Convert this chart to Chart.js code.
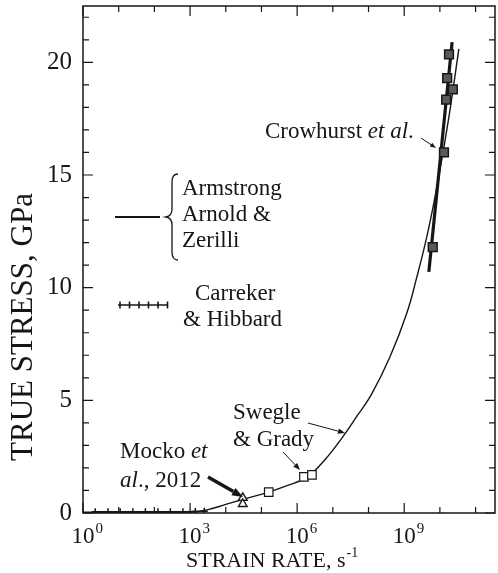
<!DOCTYPE html>
<html>
<head>
<meta charset="utf-8">
<script src="https://cdn.jsdelivr.net/npm/chart.js@4.4.1/dist/chart.umd.min.js"></script>
<style>
  html, body { margin: 0; padding: 0; background: #fff; }
  #wrap { width: 498px; height: 573px; }
</style>
</head>
<body>
<div id="wrap"><canvas id="myChart" width="498" height="573"></canvas></div>
<script>
// strain rate (1/s) vs true stress (GPa)
const modelRate   = [1, 10, 100, 1e3, 3.2e3, 1e4, 3.0e4, 1.6e5, 5e5, 1.9e6, 6.0e6, 1.9e7, 5.0e7, 1.2e8, 4.0e8, 1.2e9, 2.2e9, 4.5e9, 9.0e9, 1.8e10, 3.4e10];
const modelStress = [0.03, 0.03, 0.03, 0.04, 0.15, 0.38, 0.6, 0.93, 1.2, 1.6, 2.36, 3.38, 4.35, 5.25, 6.93, 8.9, 10.4, 12.4, 14.8, 17.6, 20.6];

const carrekerRate   = [2.2, 5, 11, 25, 56, 126, 280, 630, 1400, 2500];
const carrekerStress = [0.05, 0.05, 0.05, 0.05, 0.05, 0.05, 0.06, 0.06, 0.07, 0.08];

const mockoRate   = [3.0e4, 3.0e4];
const mockoStress = [0.67, 0.4];

const swegleRate   = [1.6e5, 1.55e6, 2.6e6];
const swegleStress = [0.93, 1.6, 1.69];

const crowhurstRate   = [6.3e9, 1.3e10, 1.5e10, 1.6e10, 1.8e10, 2.3e10];
const crowhurstStress = [11.8, 16.0, 18.35, 19.3, 20.35, 18.8];
const crowhurstFitRate   = [4.9e9, 2.2e10];
const crowhurstFitStress = [10.7, 20.9];

const xDecades = [0, 1, 2, 3, 4, 5, 6, 7, 8, 9, 10, 11];
const xLabelExps = [0, 3, 6, 9];
const yTickValues = [0, 5, 10, 15, 20];

const ink = '#161616';
const serif = '"Liberation Serif", "Times New Roman", serif';

function pts(xs, ys) {
    return xs.map((x, i) => ({ x: x, y: ys[i] }));
}

function arrow(ctx, x1, y1, x2, y2, width, head) {
    const a = Math.atan2(y2 - y1, x2 - x1);
    const bx = x2 - head * Math.cos(a), by = y2 - head * Math.sin(a);
    const w = head * 0.38;
    ctx.save();
    ctx.strokeStyle = ink;
    ctx.fillStyle = ink;
    ctx.lineWidth = width;
    ctx.beginPath();
    ctx.moveTo(x1, y1);
    ctx.lineTo(bx, by);
    ctx.stroke();
    ctx.beginPath();
    ctx.moveTo(x2, y2);
    ctx.lineTo(bx + w * Math.sin(a), by - w * Math.cos(a));
    ctx.lineTo(bx - w * Math.sin(a), by + w * Math.cos(a));
    ctx.closePath();
    ctx.fill();
    ctx.restore();
}

// text made of plain and italic pieces
function runs(ctx, x, y, parts, size) {
    let cx = x;
    parts.forEach(([t, it]) => {
        ctx.font = (it ? 'italic ' : '') + size + 'px ' + serif;
        ctx.fillText(t, cx, y);
        cx += ctx.measureText(t).width;
    });
}

function noPad(s) {
    s.paddingLeft = 0;
    s.paddingRight = 0;
    s.paddingTop = 0;
    s.paddingBottom = 0;
}

const frameAndNotes = {
    id: 'frameAndNotes',
    afterDraw(chart) {
        const ctx = chart.ctx;
        const area = chart.chartArea;
        const xs = chart.scales.x, ys = chart.scales.y;
        ctx.save();
        ctx.strokeStyle = ink;
        ctx.fillStyle = ink;

        // frame
        ctx.lineWidth = 1.5;
        ctx.strokeRect(area.left, area.top, area.right - area.left, area.bottom - area.top);

        // inward ticks on all four sides
        ctx.lineWidth = 1.2;
        ctx.beginPath();
        xDecades.forEach(e => {
            const px = xs.getPixelForValue(Math.pow(10, e));
            const len = e % 3 === 0 ? 10 : 6;
            ctx.moveTo(px, area.bottom); ctx.lineTo(px, area.bottom - len);
            ctx.moveTo(px, area.top); ctx.lineTo(px, area.top + len);
        });
        for (let v = 0; v <= 22; v++) {
            const py = ys.getPixelForValue(v);
            const len = v % 5 === 0 ? 10 : 6;
            ctx.moveTo(area.left, py); ctx.lineTo(area.left + len, py);
            ctx.moveTo(area.right, py); ctx.lineTo(area.right - len, py);
        }
        ctx.stroke();

        // x tick labels, 10 with raised exponent
        ctx.textBaseline = 'alphabetic';
        xLabelExps.forEach(e => {
            const px = xs.getPixelForValue(Math.pow(10, e));
            ctx.font = '23px ' + serif;
            const w = ctx.measureText('10').width;
            ctx.textAlign = 'center';
            ctx.fillText('10', px, 543);
            ctx.textAlign = 'left';
            ctx.font = '15px ' + serif;
            ctx.fillText(String(e), px + w / 2 + 1, 533);
        });

        // axis titles
        ctx.textAlign = 'left';
        ctx.font = '22px ' + serif;
        ctx.fillText('STRAIN RATE, s', 186, 567);
        const tw = ctx.measureText('STRAIN RATE, s').width;
        ctx.font = '14px ' + serif;
        ctx.fillText('-1', 186 + tw + 1, 557);

        ctx.save();
        ctx.translate(32, 327);
        ctx.rotate(-Math.PI / 2);
        ctx.textAlign = 'center';
        ctx.font = '31px ' + serif;
        ctx.fillText('TRUE STRESS, GPa', 0, 0);
        ctx.restore();

        // annotations
        ctx.textAlign = 'left';
        runs(ctx, 265, 138, [['Crowhurst ', false], ['et al', true], ['.', false]], 23);
        arrow(ctx, 421, 138, 436, 148, 1, 6);

        runs(ctx, 182, 195, [['Armstrong', false]], 23);
        runs(ctx, 182, 221, [['Arnold &', false]], 23);
        runs(ctx, 182, 247, [['Zerilli', false]], 23);

        runs(ctx, 195, 300, [['Carreker', false]], 23);
        runs(ctx, 183, 326, [['& Hibbard', false]], 23);

        runs(ctx, 233, 419, [['Swegle', false]], 23);
        runs(ctx, 233, 446, [['& Grady', false]], 23);
        arrow(ctx, 308, 423, 345, 433, 1, 7);
        arrow(ctx, 283, 452, 300, 470, 1, 7);

        runs(ctx, 120, 458, [['Mocko ', false], ['et', true]], 23);
        runs(ctx, 120, 487, [['al', true], ['., 2012', false]], 23);
        arrow(ctx, 208, 477, 243, 497, 3.5, 11);

        // legend keys
        ctx.lineWidth = 2.2;
        ctx.beginPath();
        ctx.moveTo(115, 217); ctx.lineTo(160, 217);
        ctx.stroke();

        ctx.lineWidth = 1.3;
        ctx.beginPath();
        ctx.moveTo(178, 174);
        ctx.quadraticCurveTo(172, 174, 172, 182);
        ctx.lineTo(172, 209);
        ctx.quadraticCurveTo(172, 216, 166, 217);
        ctx.quadraticCurveTo(172, 218, 172, 225);
        ctx.lineTo(172, 252);
        ctx.quadraticCurveTo(172, 260, 178, 260);
        ctx.stroke();

        ctx.lineWidth = 1.6;
        ctx.beginPath();
        ctx.moveTo(118, 305); ctx.lineTo(168, 305);
        for (let k = 0; k < 6; k++) {
            const cx = 120 + k * 9.5;
            ctx.moveTo(cx, 301.5); ctx.lineTo(cx, 308.5);
        }
        ctx.stroke();

        ctx.restore();
    }
};

new Chart(document.getElementById('myChart'), {
    type: 'scatter',
    data: {
        datasets: [
            {
                label: 'Crowhurst et al.',
                data: pts(crowhurstRate, crowhurstStress),
                pointStyle: 'rect',
                pointRadius: 6.2,
                borderWidth: 1.5,
                borderColor: ink,
                backgroundColor: '#5a5a5a'
            },
            {
                label: 'Swegle & Grady',
                data: pts(swegleRate, swegleStress),
                pointStyle: 'rect',
                pointRadius: 6,
                borderWidth: 1.2,
                borderColor: ink,
                backgroundColor: '#fff'
            },
            {
                label: 'Mocko et al., 2012',
                data: pts(mockoRate, mockoStress),
                pointStyle: 'triangle',
                pointRadius: 5,
                borderWidth: 1.4,
                borderColor: ink,
                backgroundColor: '#fff'
            },
            {
                label: 'Carreker & Hibbard',
                data: pts(carrekerRate, carrekerStress),
                showLine: true,
                pointStyle: 'cross',
                pointRadius: 3.5,
                borderWidth: 1.5,
                borderColor: ink,
                backgroundColor: ink
            },
            {
                label: 'Crowhurst fit',
                data: pts(crowhurstFitRate, crowhurstFitStress),
                showLine: true,
                pointRadius: 0,
                borderWidth: 3.2,
                borderColor: ink
            },
            {
                label: 'Armstrong, Arnold & Zerilli',
                data: pts(modelRate, modelStress),
                showLine: true,
                pointRadius: 0,
                borderWidth: 1.4,
                borderColor: ink,
                tension: 0.4
            }
        ]
    },
    options: {
        responsive: false,
        animation: false,
        devicePixelRatio: 1,
        layout: { autoPadding: false, padding: { top: 6, right: 3, left: 0, bottom: 0 } },
        plugins: {
            legend: { display: false },
            tooltip: { enabled: false }
        },
        scales: {
            x: {
                type: 'logarithmic',
                min: 1,
                max: 3.5e11,
                afterBuildTicks: s => { s.ticks = xDecades.map(e => ({ value: Math.pow(10, e) })); },
                afterFit: s => { s.height = 60; noPad(s); },
                ticks: { display: false },
                grid: { display: false },
                border: { display: false }
            },
            y: {
                type: 'linear',
                min: 0,
                max: 22.5,
                afterBuildTicks: s => { s.ticks = yTickValues.map(v => ({ value: v })); },
                afterFit: s => { s.width = 83; noPad(s); },
                ticks: {
                    padding: 11,
                    color: ink,
                    font: { family: serif, size: 25 },
                    callback: v => String(v)
                },
                grid: { display: false, drawTicks: false },
                border: { display: false }
            }
        }
    },
    plugins: [frameAndNotes]
});
</script>
</body>
</html>
